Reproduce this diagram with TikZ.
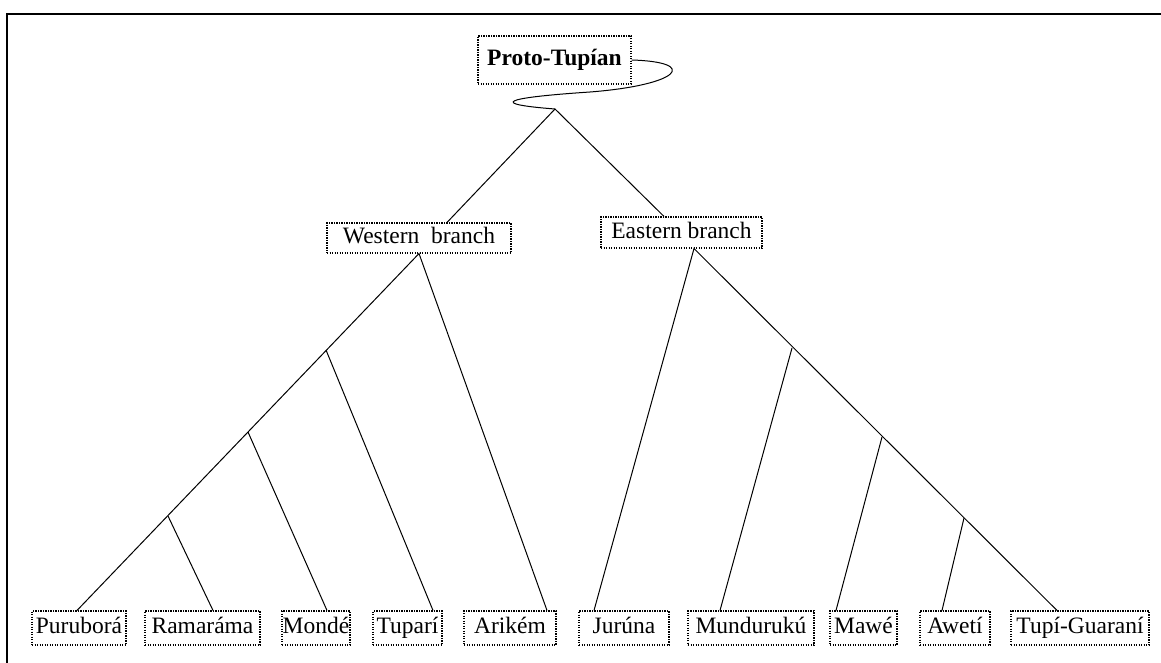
\documentclass[tikz,border=0pt]{standalone}
\usepackage{fontspec}
\setmainfont{Liberation Serif}
\begin{document}
\begin{tikzpicture}[x=1pt,y=-1pt,
  lang/.style={draw,dash pattern=on 1.2pt off 1.3pt,line width=1.1pt,inner sep=0pt,minimum height=34pt,text height=16pt,text depth=5pt,font=\fontsize{23.5}{28}\selectfont},
  link/.style={line width=1pt}]
 \useasboundingbox (0,0) rectangle (1161,663);
 \draw[line width=2pt](7,663)--(7,14)--(1161,14);
 \node[lang,minimum width=153pt,minimum height=48pt,font=\fontsize{23.5}{28}\selectfont\bfseries] (proto) at (554.5,60) {Proto-Tupían};
 \node[lang,minimum width=184pt,minimum height=30pt] (western) at (419,238) {Western\ \ branch};
 \node[lang,minimum width=161pt,minimum height=31pt] (eastern) at (681.5,232.5) {Eastern branch};
 \node[lang,minimum width=94pt] (purubora) at (79,628) {Puruborá};
 \node[lang,minimum width=115pt] (ramarama) at (202.5,628) {Ramaráma};
 \node[lang,minimum width=68pt] (monde) at (316,628) {Mondé};
 \node[lang,minimum width=69pt] (tupari) at (407.5,628) {Tuparí};
 \node[lang,minimum width=92pt] (arikem) at (510,628) {Arikém};
 \node[lang,minimum width=90pt] (juruna) at (624,628) {Jurúna};
 \node[lang,minimum width=126pt] (munduruku) at (751,628) {Mundurukú};
 \node[lang,minimum width=67pt] (mawe) at (863.5,628) {Mawé};
 \node[lang,minimum width=70pt] (aweti) at (955,628) {Awetí};
 \node[lang,minimum width=138pt] (tupiguarani) at (1080,628) {Tupí-Guaraní};
 \coordinate (root) at (555,109);
 \coordinate (wa) at (326,350);
 \coordinate (wb) at (248,432);
 \coordinate (wc) at (168,516);
 \coordinate (ea) at (792,348);
 \coordinate (eb) at (882,437);
 \coordinate (ec) at (964,518);
 \draw[link](proto.east) .. controls (700,62) and (680,85) .. (590,92) .. controls (500,98) and (490,104) .. (root);
 \draw[link]([xshift=28pt]western.north)--(root)--([xshift=-17.5pt]eastern.north);
 \draw[link]([xshift=-2pt]purubora.north)--(western.south)--([xshift=37pt]arikem.north);
 \draw[link](wa)--([xshift=25.5pt]tupari.north);
 \draw[link](wb)--([xshift=11pt]monde.north);
 \draw[link](wc)--([xshift=10.5pt]ramarama.north);
 \draw[link]([xshift=-30pt]juruna.north)--([xshift=12.5pt]eastern.south)--([xshift=-23pt]tupiguarani.north);
 \draw[link](ea)--([xshift=-31pt]munduruku.north);
 \draw[link](eb)--([xshift=-27.5pt]mawe.north);
 \draw[link](ec)--([xshift=-13pt]aweti.north);
\end{tikzpicture}
\end{document}
